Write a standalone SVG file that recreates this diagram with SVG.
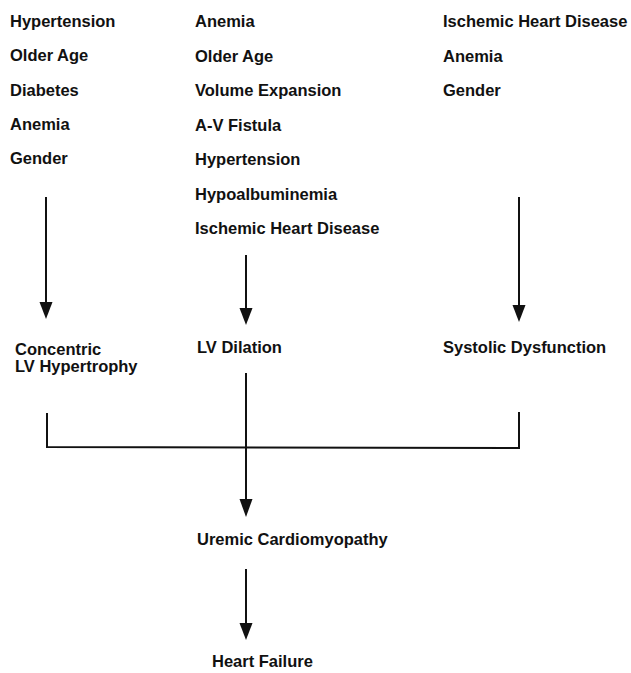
<svg xmlns="http://www.w3.org/2000/svg" width="631" height="673" viewBox="0 0 631 673">
<style>
text{font-family:"Liberation Sans",Arial,Helvetica,sans-serif;font-weight:bold;font-size:16.5px;fill:#111}
.ln{stroke:#111;stroke-width:2;fill:none}
.ah{fill:#111}
</style>
<rect width="631" height="673" fill="#fff"/>
<g id="factors-left">
<text x="10" y="27">Hypertension</text>
<text x="10" y="61">Older Age</text>
<text x="10" y="96">Diabetes</text>
<text x="10" y="130">Anemia</text>
<text x="10" y="164">Gender</text>
</g>
<g id="factors-middle">
<text x="195" y="27">Anemia</text>
<text x="195" y="62">Older Age</text>
<text x="195" y="96">Volume Expansion</text>
<text x="195" y="131">A-V Fistula</text>
<text x="195" y="165">Hypertension</text>
<text x="195" y="200">Hypoalbuminemia</text>
<text x="195" y="234">Ischemic Heart Disease</text>
</g>
<g id="factors-right">
<text x="443" y="27">Ischemic Heart Disease</text>
<text x="443" y="62">Anemia</text>
<text x="443" y="96">Gender</text>
</g>
<g id="concentric-lvh">
<text x="15" y="355">Concentric</text>
<text x="15" y="372">LV Hypertrophy</text>
</g>
<g id="lv-dilation">
<text x="197" y="353">LV Dilation</text>
</g>
<g id="systolic-dysfunction">
<text x="443" y="353">Systolic Dysfunction</text>
</g>
<g id="uremic-cardiomyopathy">
<text x="197" y="545">Uremic Cardiomyopathy</text>
</g>
<g id="heart-failure">
<text x="212" y="667">Heart Failure</text>
</g>
<g id="connectors">
<line class="ln" x1="46" y1="197" x2="46" y2="305"/>
<path class="ah" d="M39.5,302 L52.5,302 L46,319 Z"/>
<line class="ln" x1="246" y1="255" x2="246" y2="311"/>
<path class="ah" d="M239.5,308 L252.5,308 L246,325 Z"/>
<line class="ln" x1="519" y1="197" x2="519" y2="308"/>
<path class="ah" d="M512.5,305 L525.5,305 L519,322 Z"/>
<polyline class="ln" points="47,413 47,447 519,448 519,412"/>
<line class="ln" x1="246" y1="373" x2="246" y2="502"/>
<path class="ah" d="M239.5,499 L252.5,499 L246,517 Z"/>
<line class="ln" x1="246" y1="569" x2="246" y2="626"/>
<path class="ah" d="M239.5,623 L252.5,623 L246,640 Z"/>
</g>
</svg>
